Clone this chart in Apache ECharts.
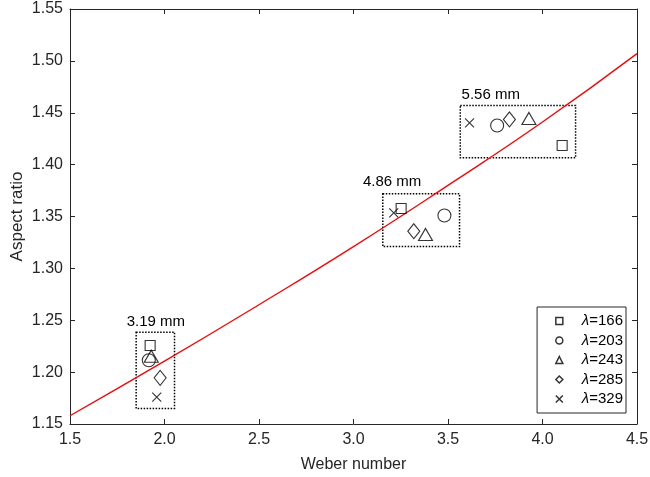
<!DOCTYPE html>
<html>
<head>
<meta charset="utf-8">
<script src="https://cdn.jsdelivr.net/npm/echarts@6/dist/echarts.min.js"></script>
<style>
  html, body { margin: 0; padding: 0; background: #fff; }
  #chart { width: 650px; height: 477px; }
</style>
</head>
<body>
<div id="chart"></div>
<script>
// fitted curve
var curveX = [1.5, 2.0, 2.5, 3.0, 3.5, 4.0, 4.5];
var curveY = [1.158, 1.2106, 1.265, 1.321, 1.380, 1.441, 1.507];

// measured points, one list per wavelength
var names = ['166', '203', '243', '285', '329'];
var pts166 = [[1.924, 1.2257], [3.252, 1.3577], [4.104, 1.4184]];
var pts203 = [[1.917, 1.2115], [3.481, 1.3510], [3.760, 1.4377]];
var pts243 = [[1.930, 1.2153], [3.381, 1.3327], [3.928, 1.4445]];
var pts285 = [[1.977, 1.1945], [3.319, 1.3358], [3.825, 1.4435]];
var pts329 = [[1.959, 1.1758], [3.213, 1.3536], [3.614, 1.4403]];

// dotted boxes round each group and their labels
var boxX0 = [1.850, 3.155, 3.565];
var boxX1 = [2.053, 3.561, 4.175];
var boxY0 = [1.2385, 1.372, 1.457];
var boxY1 = [1.165, 1.321, 1.4066];
var groupLabels = ['3.19 mm', '4.86 mm', '5.56 mm'];
var labelX = [1.954, 3.204, 3.726];
var labelY = [1.2488, 1.3837, 1.4673];

var FONT = '"Liberation Sans", Arial, Helvetica, sans-serif';
var AX = '#262626';

window.onload = function() {
    var chart = echarts.init(document.getElementById('chart'));

    var pts = [pts166, pts203, pts243, pts285, pts329];
    var symbols = ['rect', 'circle', 'triangle', 'diamond', 'path://M0,0L10,10M10,0L0,10'];
    var sizes = [10, 13, [14, 12], [12, 15], 9];

    var series = [];
    series.push({
        type: 'line',
        name: 'fit',
        data: curveX.map(function(x, i) { return [x, curveY[i]]; }),
        smooth: true,
        showSymbol: false,
        symbol: 'none',
        lineStyle: { color: '#ff0000', width: 1.3 },
        z: 1,
        silent: true,
        markArea: {
            silent: true,
            itemStyle: { color: 'rgba(0,0,0,0)', borderColor: '#000', borderWidth: 1.5, borderType: [1.5, 1.5] },
            data: boxX0.map(function(x, i) {
                return [{ coord: [x, boxY0[i]] }, { coord: [boxX1[i], boxY1[i]] }];
            })
        },
        markPoint: {
            silent: true,
            symbol: 'circle',
            symbolSize: 0,
            label: { show: true, position: 'inside', formatter: '{b}', color: '#000', fontSize: 15, fontFamily: FONT },
            data: groupLabels.map(function(t, i) {
                return { name: t, coord: [labelX[i], labelY[i]] };
            })
        }
    });
    names.forEach(function(n, i) {
        series.push({
            type: 'scatter',
            name: n,
            data: pts[i],
            symbol: symbols[i],
            symbolSize: sizes[i],
            itemStyle: { color: 'rgba(0,0,0,0)', borderColor: '#000', borderWidth: 1.1 },
            z: 3
        });
    });

    var tickStyle = { show: true, inside: true, length: 5, lineStyle: { color: AX } };

    chart.setOption({
        animation: false,
        textStyle: { fontFamily: FONT },
        grid: { left: 70, right: 13, top: 9, bottom: 53, containLabel: false, outerBoundsMode: 'none' },
        legend: {
            data: names.map(function(n, i) {
                return {
                    name: n,
                    icon: symbols[i],
                    itemStyle: { color: 'rgba(0,0,0,0)', borderColor: '#000', borderWidth: 1.5 }
                };
            }),
            orient: 'vertical',
            right: 24,
            top: 307,
            backgroundColor: '#fff',
            borderColor: AX,
            borderWidth: 1,
            padding: [6, 3, 6, 18],
            itemWidth: 7,
            itemHeight: 7,
            itemGap: 3.5,
            formatter: function(n) { return '{i|λ}=' + n; },
            textStyle: {
                color: '#000', fontSize: 15, lineHeight: 16, fontFamily: FONT,
                rich: { i: { fontStyle: 'italic', fontSize: 15, fontFamily: FONT, color: '#000', padding: [0, 0, 0, 14] } }
            }
        },
        xAxis: [{
            type: 'value', min: 1.5, max: 4.5, interval: 0.5, position: 'bottom',
            name: 'Weber number', nameLocation: 'middle', nameGap: 33, nameMoveOverlap: false,
            nameTextStyle: { fontSize: 16, color: '#262626', fontFamily: FONT },
            axisLine: { onZero: false, lineStyle: { color: AX } },
            axisTick: tickStyle,
            axisLabel: { fontSize: 16, color: '#262626', margin: 8, formatter: function(v) { return v.toFixed(1); } },
            splitLine: { show: false }
        }, {
            type: 'value', min: 1.5, max: 4.5, interval: 0.5, position: 'top',
            axisLine: { show: true, onZero: false, lineStyle: { color: AX } },
            axisTick: tickStyle,
            axisLabel: { show: false },
            splitLine: { show: false }
        }],
        yAxis: [{
            type: 'value', min: 1.15, max: 1.55, interval: 0.05, position: 'left',
            name: 'Aspect ratio', nameLocation: 'middle', nameGap: 44, nameMoveOverlap: false,
            nameTextStyle: { fontSize: 17, color: '#262626', fontFamily: FONT },
            axisLine: { show: true, onZero: false, lineStyle: { color: AX } },
            axisTick: tickStyle,
            axisLabel: { fontSize: 16, color: '#262626', margin: 7, formatter: function(v) { return v.toFixed(2); } },
            splitLine: { show: false }
        }, {
            type: 'value', min: 1.15, max: 1.55, interval: 0.05, position: 'right',
            axisLine: { show: true, onZero: false, lineStyle: { color: AX } },
            axisTick: tickStyle,
            axisLabel: { show: false },
            splitLine: { show: false }
        }],
        series: series
    });
};
</script>
</body>
</html>
